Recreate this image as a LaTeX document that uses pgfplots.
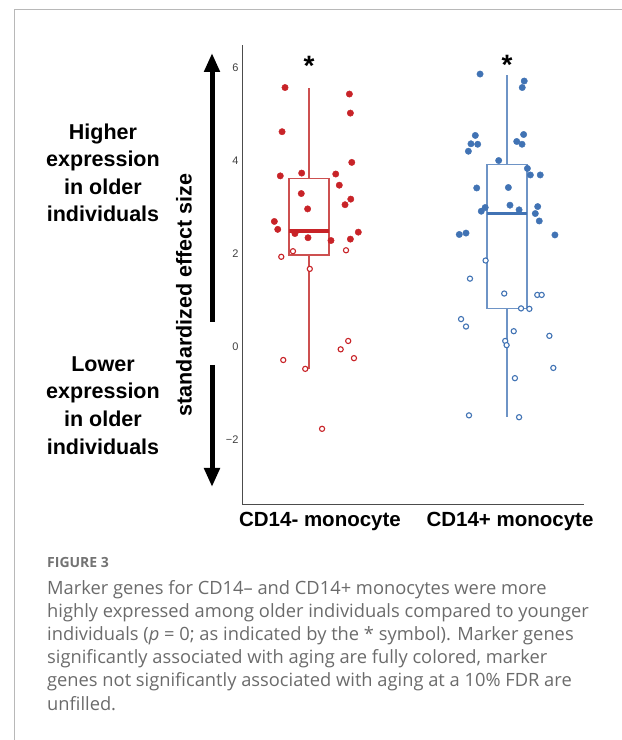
\documentclass[border=0pt]{standalone}
\usepackage{pgfplots}
\pgfplotsset{compat=1.18}
\usepgfplotslibrary{statistics}
\usetikzlibrary{arrows.meta}
\usepackage{fontspec}
\setmainfont{Liberation Sans}
\newfontfamily\capfont{Open Sans}
\definecolor{redpt}{RGB}{200,35,40}
\definecolor{redbox}{RGB}{205,80,80}
\definecolor{bluept}{RGB}{65,115,180}
\definecolor{bluebox}{RGB}{110,148,198}
\begin{document}
\begin{tikzpicture}
\useasboundingbox (0pt,0pt) rectangle (622pt,740pt);
\draw[black!28, line width=1pt] (14pt,0pt) -- (14pt,730pt) -- (622pt,730pt);
% left annotations
\begin{scope}[every node/.style={anchor=base, font=\bfseries\fontsize{21.5}{21.5}\selectfont, inner sep=0pt}]
\node at (103pt,600.5pt) {Higher};
\node at (103pt,573pt) {expression};
\node at (103pt,545.5pt) {in older};
\node at (103pt,518pt) {individuals};
\node at (103pt,368.5pt) {Lower};
\node at (103pt,341pt) {expression};
\node at (103pt,313pt) {in older};
\node at (103pt,285pt) {individuals};
\end{scope}
\draw[line width=5pt, -{Triangle[width=15pt,length=19pt]}] (212pt,418pt) -- (212pt,687pt);
\draw[line width=5pt, -{Triangle[width=15pt,length=19pt]}] (212pt,375pt) -- (212pt,253pt);
\node[rotate=90, font=\bfseries\fontsize{21.5}{21.5}\selectfont] at (184pt,445pt) {standardized effect size};
\begin{axis}[
  at={(242pt,235pt)}, anchor=south west, scale only axis,
  width=342pt, height=460pt,
  xmin=-0.3384, xmax=1.3889, ymin=-3.398, ymax=6.495,
  axis x line*=bottom, axis y line*=left,
  axis line style={black!70, line width=1pt, -},
  major tick length=0pt,
  ytick={-2,0,2,4,6}, yticklabels={−2,0,2,4,6},
  yticklabel style={font=\fontsize{11}{11}\selectfont, text=black!75},
  xtick=\empty,
  boxplot/draw direction=y,
  clip=false,
]
\addplot[redbox, line width=1.2pt, boxplot prepared={draw position=0, box extend=0.202, whisker extend=0,
  lower whisker=-0.47, lower quartile=1.98, median=2.50, upper quartile=3.62, upper whisker=5.58,
  every median/.style={line width=3.5pt, draw=redpt}}] coordinates {};
\addplot[bluebox, line width=1.2pt, boxplot prepared={draw position=1, box extend=0.202, whisker extend=0,
  lower whisker=-1.51, lower quartile=0.83, median=2.875, upper quartile=3.93, upper whisker=5.86,
  every median/.style={line width=3.5pt, draw=bluept}}] coordinates {};
% red filled
\addplot[only marks, mark=*, mark size=3.2pt, color=redpt] coordinates {
(-0.121,5.58) (0.204,5.44) (0.209,5.03) (-0.136,4.63) (0.216,3.97) (-0.145,3.68)
(-0.037,3.74) (0.135,3.72) (0.153,3.48) (-0.039,3.30) (0.211,3.18) (0.182,3.06)
(-0.007,2.97) (-0.175,2.70) (-0.158,2.53) (-0.071,2.44) (-0.005,2.35) (0.111,2.29)
(0.209,2.32) (0.249,2.47)};
% red open
\addplot[only marks, mark=*, mark size=2.6pt, color=redpt, line width=1.1pt, mark options={fill=white}] coordinates {
(-0.140,1.94) (-0.081,2.06) (0.187,2.08) (0.004,1.68) (-0.130,-0.28) (-0.019,-0.47)
(0.198,0.13) (0.160,-0.05) (0.227,-0.24) (0.066,-1.76)};
% blue filled
\addplot[only marks, mark=*, mark size=3.2pt, color=bluept] coordinates {
(0.864,5.87) (1.087,5.72) (1.077,5.58) (0.840,4.55) (0.818,4.37) (0.852,4.36)
(0.805,4.21) (1.084,4.57) (1.049,4.42) (1.076,4.36) (0.958,4.01) (1.103,3.84)
(1.118,3.70) (1.168,3.70) (0.847,3.42) (1.007,3.43) (0.890,3.00) (0.870,2.92)
(1.015,3.05) (1.061,2.95) (1.155,3.02) (1.143,2.87) (1.163,2.71) (0.759,2.42)
(0.793,2.45) (1.242,2.41)};
% blue open
\addplot[only marks, mark=*, mark size=2.6pt, color=bluept, line width=1.1pt, mark options={fill=white}] coordinates {
(0.892,1.86) (0.813,1.47) (0.986,1.15) (1.153,1.12) (1.175,1.12) (1.071,0.83)
(1.113,0.82) (0.768,0.60) (0.793,0.44) (1.034,0.34) (1.214,0.24) (0.991,0.13)
(0.998,0.04) (1.234,-0.45) (1.040,-0.67) (0.808,-1.47) (1.061,-1.51)};
\node[font=\bfseries\fontsize{28}{28}\selectfont] at (axis cs:0,6.04) {*};
\node[font=\bfseries\fontsize{28}{28}\selectfont] at (axis cs:1,6.06) {*};
\end{axis}
% category labels
\node[anchor=base, inner sep=0pt, font=\bfseries\fontsize{20.5}{20.5}\selectfont] at (320pt,213pt) {CD14- monocyte};
\node[anchor=base, inner sep=0pt, font=\bfseries\fontsize{20.5}{20.5}\selectfont] at (510pt,213pt) {CD14+ monocyte};
% caption
\node[anchor=base west, inner sep=0pt, font=\capfont\bfseries\fontsize{14}{14}\selectfont, text=black!55] at (47pt,172pt) {FIGURE 3};
\begin{scope}[every node/.style={anchor=base west, inner sep=0pt, font=\capfont\fontsize{18.3}{18.3}\selectfont, text=black!58}]
\node at (47pt,145pt) {Marker genes for CD14– and CD14+ monocytes were more};
\node at (47pt,122pt) {highly expressed among older individuals compared to younger};
\node at (47pt,99pt) {individuals (\textit{p} = 0; as indicated by the * symbol). Marker genes};
\node at (47pt,76pt) {significantly associated with aging are fully colored, marker};
\node at (47pt,53pt) {genes not significantly associated with aging at a 10\% FDR are};
\node at (47pt,30pt) {unfilled.};
\end{scope}
\end{tikzpicture}
\end{document}
